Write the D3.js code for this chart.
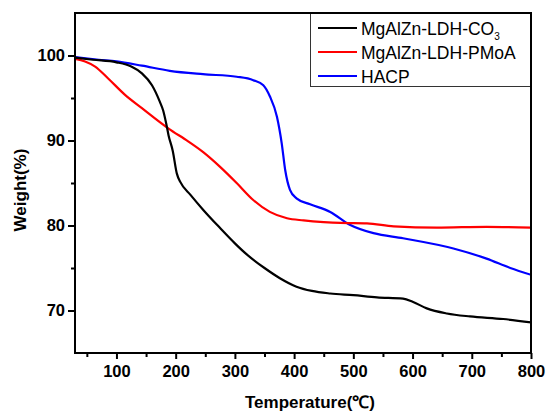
<!DOCTYPE html>
<html>
<head>
<meta charset="utf-8">
<script src="https://cdn.jsdelivr.net/npm/d3@7"></script>
<style>
  html, body { margin: 0; padding: 0; background: #fff; }
  svg { display: block; font-family: "Liberation Sans", Arial, sans-serif; }
</style>
</head>
<body>
<svg id="chart" width="548" height="411"></svg>
<script>
// ---- data ----
const seriesNames = ["MgAlZn-LDH-CO", "MgAlZn-LDH-PMoA", "HACP"];
const seriesColors = ["#000000", "#ff0000", "#0000ff"];

const tempBlack = [30, 60, 100, 125, 143, 160, 173, 179, 184, 188, 195, 202, 208, 225, 247, 275, 300, 320, 350, 376, 404, 430, 461, 500, 540, 584, 601, 624, 658, 697, 753, 800];
const weightBlack = [99.75, 99.5, 99.2, 98.7, 97.9, 96.5, 94.6, 93.5, 92.0, 90.6, 88.8, 86.1, 85.1, 83.6, 81.8, 79.7, 77.9, 76.6, 75.0, 73.8, 72.8, 72.3, 72.0, 71.8, 71.55, 71.4, 71.0, 70.25, 69.65, 69.3, 69.0, 68.6];

const tempRed = [30, 47, 64, 86, 114, 143, 188, 221, 247, 275, 303, 331, 359, 388, 416, 450, 478, 523, 568, 641, 725, 800];
const weightRed = [99.6, 99.3, 98.7, 97.3, 95.4, 93.8, 91.4, 89.9, 88.6, 86.9, 85.0, 83.0, 81.6, 80.85, 80.6, 80.4, 80.3, 80.25, 79.9, 79.75, 79.85, 79.75];

const tempBlue = [30, 70, 100, 143, 190, 246, 303, 331, 348, 359, 371, 379, 385, 393, 404, 427, 461, 494, 534, 584, 669, 725, 765, 800];
const weightBlue = [99.8, 99.5, 99.3, 98.8, 98.2, 97.8, 97.5, 97.1, 96.5, 95.2, 92.8, 89.7, 86.5, 84.2, 83.2, 82.5, 81.6, 80.1, 79.1, 78.5, 77.3, 76.1, 75.0, 74.2];

const xMajorTicks = [100, 200, 300, 400, 500, 600, 700, 800];
const xMinorTicks = [50, 150, 250, 350, 450, 550, 650, 750];
const yMajorTicks = [70, 80, 90, 100];
const yMinorTicks = [75, 85, 95];

// ---- layout ----
const svg = d3.select("#chart");
const L = 75, R = 531, T = 13, B = 353;
const x = d3.scaleLinear().domain([30, 800]).range([L, R]);
const y = d3.scaleLinear().domain([65, 105]).range([B, T]);

const series = [
  { name: seriesNames[0], color: seriesColors[0], t: tempBlack, w: weightBlack },
  { name: seriesNames[1], color: seriesColors[1], t: tempRed, w: weightRed },
  { name: seriesNames[2], color: seriesColors[2], t: tempBlue, w: weightBlue }
];

const line = d3.line()
  .x(d => x(d[0]))
  .y(d => y(d[1]))
  .curve(d3.curveMonotoneX);

const plot = svg.append("g");
plot.append("clipPath").attr("id", "clip").append("rect")
  .attr("x", L).attr("y", T).attr("width", R - L).attr("height", B - T);

[series[2], series[1], series[0]].forEach(s => {
  plot.append("path")
    .datum(s.t.map((t, i) => [t, s.w[i]]))
    .attr("clip-path", "url(#clip)")
    .attr("fill", "none")
    .attr("stroke", s.color)
    .attr("stroke-width", 2.2)
    .attr("stroke-linejoin", "round")
    .attr("d", line);
});

// ---- axes ----
const tickFont = "bold 16.5px 'Liberation Sans', Arial, sans-serif";

const xAxis = svg.append("g").attr("transform", `translate(0,${B})`)
  .call(d3.axisBottom(x).tickValues(xMajorTicks).tickSize(6).tickSizeOuter(0).tickPadding(6).tickFormat(d3.format("d")));
const xMinor = svg.append("g").attr("transform", `translate(0,${B})`)
  .call(d3.axisBottom(x).tickValues(xMinorTicks).tickSize(4).tickSizeOuter(0).tickFormat(""));

const yAxis = svg.append("g").attr("transform", `translate(${L},0)`)
  .call(d3.axisLeft(y).tickValues(yMajorTicks).tickSize(7).tickSizeOuter(0).tickPadding(3).tickFormat(d3.format("d")));
const yMinor = svg.append("g").attr("transform", `translate(${L},0)`)
  .call(d3.axisLeft(y).tickValues(yMinorTicks).tickSize(4).tickSizeOuter(0).tickFormat(""));

[xAxis, xMinor, yAxis, yMinor].forEach(g => {
  g.select(".domain").remove();
  g.selectAll(".tick line").attr("stroke", "#000").attr("stroke-width", 2);
  g.selectAll(".tick text").style("font", tickFont).attr("fill", "#000");
});

// ---- legend ----
const lg = svg.append("g");
lg.append("rect")
  .attr("x", 310.5).attr("y", 13.5).attr("width", 220).attr("height", 73)
  .attr("fill", "#fff").attr("stroke", "#333").attr("stroke-width", 1);
const legendY = [28, 52, 76];
series.forEach((s, i) => {
  lg.append("line")
    .attr("x1", 318).attr("x2", 357)
    .attr("y1", legendY[i]).attr("y2", legendY[i])
    .attr("stroke", s.color).attr("stroke-width", 2.2);
  const tx = lg.append("text")
    .attr("x", 361).attr("y", legendY[i] + 6.5)
    .style("font", "17.5px 'Liberation Sans', Arial, sans-serif")
    .attr("fill", "#000")
    .text(s.name);
  if (i === 0) {
    tx.append("tspan").attr("dy", 5).style("font-size", "10px").text("3");
  }
});

// ---- frame ----
svg.append("rect")
  .attr("x", L).attr("y", T).attr("width", R - L).attr("height", B - T)
  .attr("fill", "none").attr("stroke", "#000").attr("stroke-width", 2);

// ---- axis titles ----
svg.append("text")
  .attr("x", 310).attr("y", 408)
  .attr("text-anchor", "middle")
  .style("font", "bold 17px 'Liberation Sans', Arial, sans-serif")
  .text("Temperature(℃)");

svg.append("text")
  .attr("transform", `translate(26,190) rotate(-90)`)
  .attr("text-anchor", "middle")
  .style("font", "bold 17px 'Liberation Sans', Arial, sans-serif")
  .text("Weight(%)");
</script>
</body>
</html>
